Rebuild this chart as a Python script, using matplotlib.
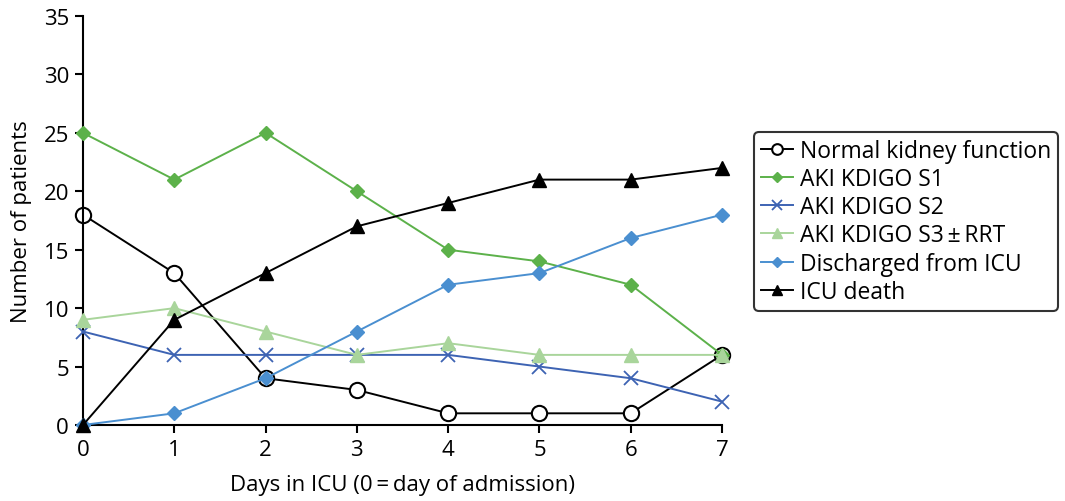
import matplotlib
matplotlib.use("Agg")
import matplotlib.pyplot as plt

days = [0, 1, 2, 3, 4, 5, 6, 7]
normal = [18, 13, 4, 3, 1, 1, 1, 6]
s1 = [25, 21, 25, 20, 15, 14, 12, 6]
s2 = [8, 6, 6, 6, 6, 5, 4, 2]
s3 = [9, 10, 8, 6, 7, 6, 6, 6]
discharged = [0, 1, 4, 8, 12, 13, 16, 18]
death = [0, 9, 13, 17, 19, 21, 21, 22]
labels = ["Normal kidney function", "AKI KDIGO S1", "AKI KDIGO S2",
          "AKI KDIGO S3\u2009\u00b1\u2009RRT", "Discharged from ICU", "ICU death"]

plt.rcParams['font.family'] = ['Open Sans', 'DejaVu Sans']

fig = plt.figure(figsize=(10.65, 5.02), dpi=100)
ax = fig.add_axes([0.0779, 0.1514, 0.6001, 0.8147])

lw = 1.4
ax.plot(days, s1, color='#5cb14a', marker='D', markersize=7.5, lw=lw, label=labels[1], clip_on=False, zorder=3)
ax.plot(days, s2, color='#3d63b3', marker='x', markersize=10, mew=1.3, lw=lw, label=labels[2], clip_on=False, zorder=3)
ax.plot(days, s3, color='#a9d59b', marker='^', markersize=10, lw=lw, label=labels[3], clip_on=False, zorder=3)
ax.plot(days, discharged, color='#4a8fd0', marker='D', markersize=7, lw=lw, label=labels[4], clip_on=False, zorder=3)
ax.plot(days, normal, color='black', marker='o', markersize=11, mfc='white', mec='black', mew=1.5, lw=lw, label=labels[0], clip_on=False, zorder=2)
ax.plot(days, death, color='black', marker='^', markersize=10, lw=lw, label=labels[5], clip_on=False, zorder=4)

ax.set_xlim(0, 7)
ax.set_ylim(0, 35)
ax.set_xticks(days)
ax.set_yticks(range(0, 36, 5))
ax.spines['top'].set_visible(False)
ax.spines['right'].set_visible(False)
for sp in ('left', 'bottom'):
    ax.spines[sp].set_linewidth(1.5)
ax.tick_params(labelsize=16, width=1.5, length=6, pad=4)
ax.set_xlabel("Days in ICU (0\u2009=\u2009day of admission)", fontsize=16, labelpad=10)
ax.set_ylabel("Number of patients", fontsize=16, labelpad=8)

hd = dict(zip(*ax.get_legend_handles_labels()[::-1]))
leg = fig.legend([hd[x] for x in labels], labels, loc='center left',
                 bbox_to_anchor=(0.708, 0.557), fontsize=16.5, frameon=True,
                 fancybox=True, edgecolor='black', handlelength=1.4,
                 labelspacing=0.18, borderpad=0.3, handletextpad=0.3, markerscale=0.7,
                 borderaxespad=0)
leg.get_frame().set_linewidth(1.5)

fig.savefig("out.png", dpi=100)
